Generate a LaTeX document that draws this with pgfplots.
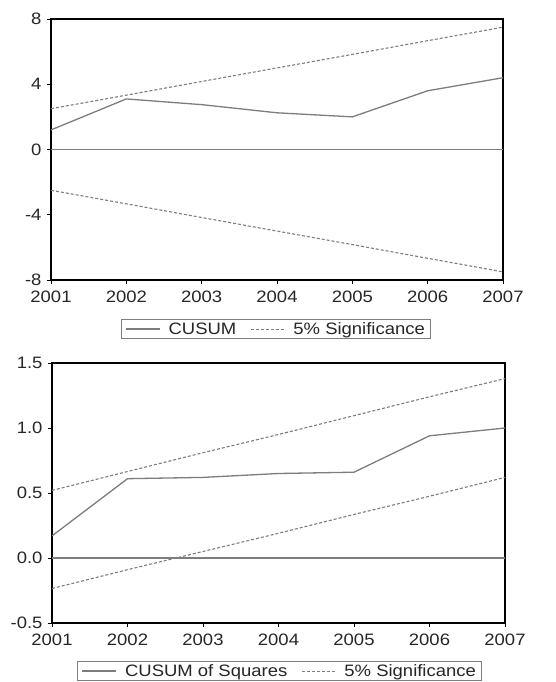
\documentclass[border=0pt]{standalone}
\usepackage{pgfplots}
\pgfplotsset{compat=1.18}
\usepackage{fontspec}
\setmainfont{Liberation Sans}[FakeStretch=1.12]
\definecolor{lg}{RGB}{125,125,125}
\pgfplotsset{
  myaxis/.style={
    scale only axis,
    anchor=south west,
    axis line style={black, line width=1.4pt},
    tick align=outside,
    tick pos=left,
    major tick length=4pt,
    tick style={black, line width=0.8pt},
    xmin=2001, xmax=2007,
    xtick={2001,2002,2003,2004,2005,2006,2007},
    xticklabels={2001,2002,2003,2004,2005,2006,2007},
    ticklabel style={font=\fontsize{16.5}{19}\selectfont, text=black!85},
    xticklabel style={yshift=-3pt},
    yticklabel style={xshift=-2pt},
    legend columns=2,
    legend cell align=left,
    legend style={draw=lg, line width=1pt, inner xsep=4pt, inner ysep=1pt,
      font=\fontsize{16.5}{19}\selectfont, text=black!85, anchor=center,
      /tikz/every even column/.append style={column sep=12pt}},
    legend image code/.code={\draw[##1] (0pt,0pt) -- (34pt,0pt); \path (40pt,0pt);},
  },
  cus/.style={lg, line width=1.3pt},
  sig/.style={lg, line width=1.1pt, dash pattern=on 3pt off 2pt},
}
\begin{document}
\begin{tikzpicture}[x=1pt,y=1pt]
\path[use as bounding box] (0,0) rectangle (556,682);
\begin{axis}[myaxis, at={(51pt,402pt)}, width=452pt, height=261pt,
  ymin=-8, ymax=8, ytick={-8,-4,0,4,8}, yticklabels={-8,-4,0,4,8},
  legend style={at={(0.498,-0.188)}}]
\addplot[cus] coordinates {(2001,1.2) (2002,3.1) (2003,2.75) (2004,2.25) (2005,2.0) (2006,3.6) (2007,4.4)};
\addlegendentry{CUSUM}
\addplot[sig] coordinates {(2001,2.5) (2002,3.33) (2003,4.17) (2004,5.0) (2005,5.83) (2006,6.67) (2007,7.5)};
\addlegendentry{5\% Significance}
\addplot[sig, forget plot] coordinates {(2001,-2.5) (2002,-3.33) (2003,-4.17) (2004,-5.0) (2005,-5.83) (2006,-6.67) (2007,-7.5)};
\addplot[lg, line width=1.1pt, forget plot] coordinates {(2001,0) (2007,0)};
\end{axis}
\begin{axis}[myaxis, at={(52pt,59pt)}, width=453pt, height=260pt,
  ymin=-0.5, ymax=1.5, ytick={-0.5,0,0.5,1,1.5}, yticklabels={-0.5,0.0,0.5,1.0,1.5},
  legend style={at={(0.503,-0.185)}}]
\addplot[cus] coordinates {(2001,0.17) (2002,0.61) (2003,0.62) (2004,0.65) (2005,0.66) (2006,0.94) (2007,1.0)};
\addlegendentry{CUSUM of Squares}
\addplot[sig] coordinates {(2001,0.52) (2002,0.665) (2003,0.81) (2004,0.95) (2005,1.095) (2006,1.24) (2007,1.38)};
\addlegendentry{5\% Significance}
\addplot[sig, forget plot] coordinates {(2001,-0.235) (2002,-0.09) (2003,0.05) (2004,0.19) (2005,0.335) (2006,0.475) (2007,0.62)};
\addplot[lg, line width=1.1pt, forget plot] coordinates {(2001,0) (2007,0)};
\end{axis}
\end{tikzpicture}
\end{document}
